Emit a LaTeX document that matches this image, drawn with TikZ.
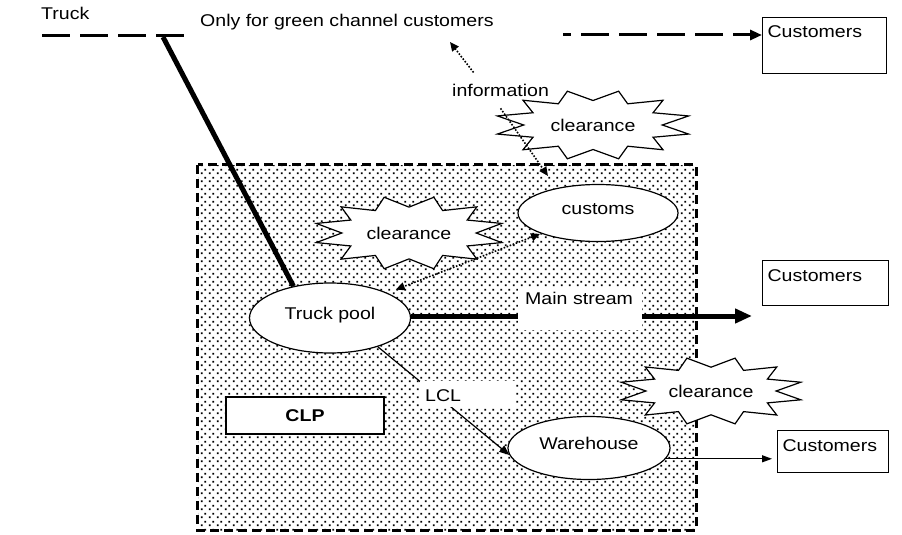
\documentclass[tikz,border=0pt]{standalone}
\usepackage{fontspec}
\setmainfont{Liberation Sans}[FakeStretch=1.15]
\usetikzlibrary{shapes.geometric,arrows.meta,patterns.meta}

% dot screen for the CLP site: staggered rows of small square dots
\pgfdeclarepattern{
  name=clpdots, type=uncolored,
  bottom left={\pgfpoint{0pt}{0pt}}, top right={\pgfpoint{8pt}{8pt}},
  tile size={\pgfpoint{8pt}{8pt}},
  code={\pgfpathrectangle{\pgfpoint{1pt}{1pt}}{\pgfpoint{2pt}{2pt}}%
        \pgfpathrectangle{\pgfpoint{5pt}{5pt}}{\pgfpoint{2pt}{2pt}}%
        \pgfusepath{fill}}}

% explosion outline with a "clearance" label: name, cx, cy, rx, ry
\newcommand\clearancestar[5]{%
  \path[starline] plot[samples at={0,...,23}, variable=\k]
    ({#2+#4*ifthenelse(mod(\k,2)==0,1,0.7)*cos(\k*15+15)},
     {#3+#5*ifthenelse(mod(\k,2)==0,1,0.7)*sin(\k*15+15)}) -- cycle;
  \node (#1) at (#2,#3) {clearance};}

\begin{document}
\begin{tikzpicture}[x=1pt, y=-1pt,
  font=\fontsize{17pt}{20pt}\selectfont,
  freetext/.style={inner sep=0pt, anchor=base west},
  ellnode/.style={ellipse, draw, fill=white, line width=1.2pt, inner sep=1pt,
                  text height=12pt, text depth=10pt},
  custbox/.style={draw, line width=1.2pt, fill=white, anchor=north west,
                  inner xsep=5pt, inner ysep=4pt, align=left},
  clpbox/.style={draw, line width=1.2pt, fill=white, minimum width=158pt,
                 minimum height=37pt, font=\fontsize{17pt}{20pt}\selectfont\bfseries},
  whitelabel/.style={fill=white, anchor=north west, inner ysep=0pt, align=left},
  starline/.style={draw, fill=white, line width=1.2pt, line join=miter},
  truckline/.style={line width=3pt, dash pattern=on 28pt off 10pt},
  feeder/.style={line width=5pt},
  mainline/.style={line width=5pt, -{Triangle[length=17pt,width=14pt]}},
  lclline/.style={line width=1.2pt, -{Triangle[length=10pt,width=8pt]}},
  thinarrow/.style={line width=1.2pt, -{Triangle[length=10pt,width=7pt]}},
  greenline/.style={line width=3pt, dash pattern=on 28pt off 10pt, dash phase=20pt,
                    -{Triangle[length=12pt,width=10pt]}},
  infoarrow/.style={line width=1.6pt, dash pattern=on 1.6pt off 1.6pt,
                    -{Triangle[length=9pt,width=8pt]}},
  dualarrow/.style={line width=1.6pt, dash pattern=on 1.6pt off 1.6pt,
                    {Triangle[length=9pt,width=8pt]}-{Triangle[length=9pt,width=8pt]}},
  siteborder/.style={line width=3pt, dash pattern=on 9pt off 5pt}]

\useasboundingbox (0,0) rectangle (902,535);

% CLP site area
\node[minimum width=498pt, minimum height=365pt, inner sep=0pt,
      pattern=clpdots, pattern color=black] (site) at (447,347.5) {};

% truck route at the top
\coordinate (truckA) at (42,36);
\coordinate (truckB) at (186,36);
\coordinate (truckDrop) at (163,37);
\draw[truckline] (truckA) -- (truckB);
\node[freetext] (truckLbl) at (41,20) {Truck};
\node[freetext] (green) at (200,27) {Only for green channel customers};
\node[freetext] (info) at (452,96) {information};

% clearance bursts (the third one sits on the border, drawn later)
\clearancestar{clr1}{593}{125}{99}{35}
\clearancestar{clr2}{409}{233}{96}{37}

% main nodes
\node[ellnode, minimum width=160pt, minimum height=57pt] (customs) at (598,213) {customs};
\node[ellnode, minimum width=161pt, minimum height=70pt] (tp) at (330,318) {Truck pool};
\node[ellnode, minimum width=162pt, minimum height=63pt] (wh) at (589,448) {Warehouse};
\node[clpbox] (clp) at (305,415.5) {CLP};

\node[custbox, text width=114pt, text height=16pt, text depth=32pt] (cust1) at (762,17) {Customers};
\node[custbox, text width=116pt, text height=17pt, text depth=20pt] (cust2) at (762,260) {Customers};
\node[custbox, text width=101pt, text height=17pt, text depth=17pt] (cust3) at (777,430) {Customers};

% truck feeder into the truck pool
\draw[feeder] (truckDrop) -- (tp.139);

% green channel direct delivery
\coordinate (greenStart) at (563,35);
\draw[greenline] (greenStart) -- (greenStart -| cust1.west);

% information flows
\coordinate (greenTip) at (450,42);
\coordinate (siteTip) at (548,176);
\draw[infoarrow] ([xshift=-27pt,yshift=11pt]info.north) -- (greenTip);
\draw[infoarrow] ([yshift=-12pt]info.south) -- (siteTip);
\draw[dualarrow, shorten <=1pt, shorten >=9pt] (customs.south west) -- (tp.north east);

% main stream and LCL flows
\coordinate (msEnd) at (752,316);
\draw[mainline] (tp.east |- msEnd) -- (msEnd);
\draw[lclline] (tp.-31) -- (wh.185);
\draw[thinarrow, shorten >=5pt] (wh.352) -- (wh.352 -| cust3.west);

\node[whitelabel, inner xsep=7pt, text width=110pt, text height=16pt, text depth=26pt] (msLbl) at (518,288) {Main stream};
\node[whitelabel, inner xsep=5pt, text width=85pt, text height=20pt, text depth=6pt] (lclLbl) at (420,381) {LCL};

% site border
\draw[siteborder] (site.north west) rectangle (site.south east);

\clearancestar{clr3}{711}{391}{93}{34}

\end{tikzpicture}
\end{document}
